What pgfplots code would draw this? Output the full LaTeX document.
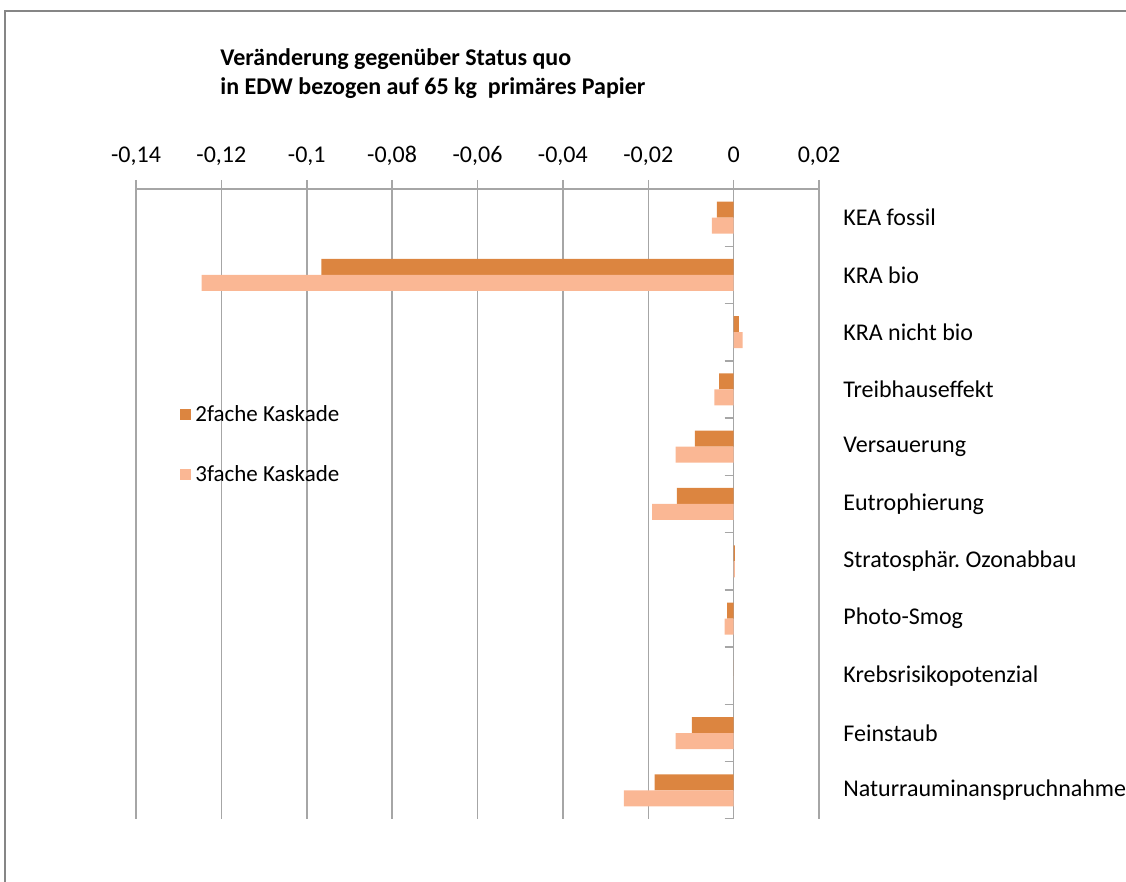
\documentclass[border=0pt]{standalone}
\usepackage{fontspec}
\setmainfont{Carlito}
\usepackage{pgfplots}
\pgfplotsset{compat=1.18}

\definecolor{zwei}{RGB}{220,133,64}
\definecolor{drei}{RGB}{250,183,148}
\definecolor{gitter}{RGB}{166,166,166}
\definecolor{rahmen}{RGB}{134,134,134}

% 1 px of the reference = 0.5pt
\begin{document}
\begin{tikzpicture}
\clip (0,0) rectangle (563pt,441pt);
\draw[rahmen, line width=1pt] (2.5pt,-2pt) -- (2.5pt,435.5pt) -- (570pt,435.5pt);

\node[anchor=base west, inner sep=0pt, font=\fontsize{12}{14}\selectfont\bfseries] at (110pt,408pt)
  {Veränderung gegenüber Status quo};
\node[anchor=base west, inner sep=0pt, font=\fontsize{12}{14}\selectfont\bfseries] at (110pt,393.75pt)
  {in EDW bezogen auf 65 kg\ \ primäres Papier};

\begin{axis}[
    at={(68pt,31.5pt)}, anchor=south west,
    scale only axis,
    width=341.5pt, height=315pt,
    xbar, bar width=8pt,
    xmin=-0.14, xmax=0.02,
    ymin=-0.5, ymax=10.5,
    y dir=reverse,
    axis x line*=top,
    axis y line*=right,
    x axis line style={gitter, line width=0.75pt},
    y axis line style={draw=none},
    xtick={-0.14,-0.12,-0.1,-0.08,-0.06,-0.04,-0.02,0,0.02},
    xticklabels={{-0,14},{-0,12},{-0,1},{-0,08},{-0,06},{-0,04},{-0,02},0,{0,02}},
    xtick style={gitter, line width=0.75pt},
    major tick length=4.5pt,
    tick align=outside,
    xmajorgrids,
    grid style={gitter, line width=0.75pt},
    ytick={0,1,2,3,4,5,6,7,8,9,10},
    ytick style={draw=none},
    yticklabels={KEA fossil, KRA bio, KRA nicht bio, Treibhauseffekt, Versauerung,
        Eutrophierung, Stratosphär.\ Ozonabbau, Photo-Smog, Krebsrisikopotenzial,
        Feinstaub, Naturrauminanspruchnahme},
    ticklabel style={font=\fontsize{12}{14}\selectfont, text=black},
    yticklabel style={anchor=west, inner sep=0pt, xshift=7.5pt},
    xticklabel style={anchor=base, yshift=8.65pt},
    legend style={at={(0.0644,0.664)}, anchor=north west, draw=none, fill=none,
        font=\fontsize{11.5}{13}\selectfont, row sep=16.5pt, inner sep=0pt},
    legend cell align=left,
    legend image code/.code={\fill[#1] (-1.8pt,-2.75pt) rectangle (3.7pt,2.75pt);},
]
\addplot[fill=zwei, draw=none, bar shift=4pt] coordinates {
    (-0.0039,0) (-0.0966,1) (0.0012,2) (-0.0034,3) (-0.0091,4) (-0.0133,5)
    (0.0003,6) (-0.0015,7) (0,8) (-0.0098,9) (-0.0185,10)
};
\addplot[fill=drei, draw=none, bar shift=-4pt] coordinates {
    (-0.0051,0) (-0.1246,1) (0.0021,2) (-0.0045,3) (-0.0136,4) (-0.0191,5)
    (0.0003,6) (-0.0021,7) (0,8) (-0.0136,9) (-0.0257,10)
};
\legend{2fache Kaskade, 3fache Kaskade}
\pgfplotsinvokeforeach{-0.5,0.5,1.5,2.5,3.5,4.5,5.5,6.5,7.5,8.5,9.5,10.5}{
    \draw[gitter, line width=0.75pt] ([xshift=-4.5pt]axis cs:0,#1) -- (axis cs:0,#1);
}
\end{axis}
\end{tikzpicture}
\end{document}
